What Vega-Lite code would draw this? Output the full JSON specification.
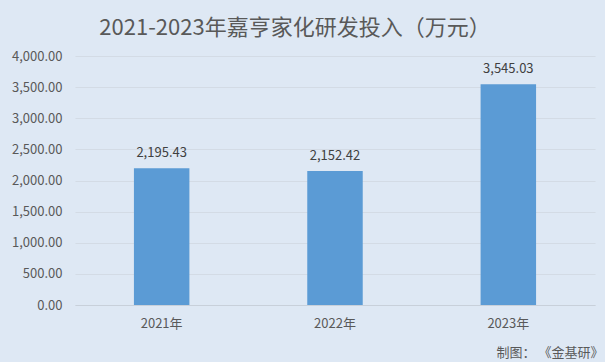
{
  "$schema": "https://vega.github.io/schema/vega-lite/v6.json",
  "width": 520,
  "height": 249,
  "autosize": {"type": "none"},
  "padding": {"left": 75, "top": 56, "right": 10, "bottom": 57},
  "background": "#dee8f4",
  "title": {
    "text": "2021-2023年嘉亨家化研发投入（万元）",
    "font": "Noto Sans CJK SC",
    "fontSize": 22,
    "fontWeight": "normal",
    "color": "#595959",
    "anchor": "middle",
    "frame": "group",
    "dx": -40,
    "offset": 10
  },
  "config": {
    "view": {"stroke": null},
    "font": "Noto Sans CJK SC"
  },
  "data": {
    "values": [
      {"year": "2021年", "value": 2195.43},
      {"year": "2022年", "value": 2152.42},
      {"year": "2023年", "value": 3545.03}
    ]
  },
  "encoding": {
    "x": {
      "field": "year",
      "type": "nominal",
      "sort": null,
      "scale": {"paddingInner": 0.68, "paddingOuter": 0.34},
      "axis": {
        "title": "制图：  《金基研》",
        "titleAnchor": "end",
        "titleAlign": "right",
        "titleX": 528,
        "titleY": 54,
        "titleBaseline": "bottom",
        "titleFont": "Noto Sans CJK SC",
        "titleFontSize": 13,
        "titleFontWeight": "normal",
        "titleColor": "#595959",
        "labelAngle": 0,
        "labelFont": "Noto Sans CJK SC",
        "labelFontSize": 13,
        "labelColor": "#595959",
        "labelPadding": 12,
        "ticks": false,
        "domainColor": "#c8d0da",
        "domainWidth": 1
      }
    },
    "y": {
      "field": "value",
      "type": "quantitative",
      "scale": {"domain": [0, 4000]},
      "axis": {
        "title": null,
        "values": [0, 500, 1000, 1500, 2000, 2500, 3000, 3500, 4000],
        "format": ",.2f",
        "labelFont": "Noto Sans CJK SC",
        "labelFontSize": 13,
        "labelColor": "#595959",
        "labelPadding": 13,
        "ticks": false,
        "domain": false,
        "gridColor": "#d3dbe5",
        "gridWidth": 1
      }
    }
  },
  "layer": [
    {
      "mark": {"type": "bar", "color": "#5b9bd5"}
    },
    {
      "mark": {
        "type": "text",
        "baseline": "bottom",
        "dy": -8,
        "fontSize": 13,
        "color": "#404040",
        "font": "Noto Sans CJK SC"
      },
      "encoding": {
        "text": {"field": "value", "type": "quantitative", "format": ",.2f"}
      }
    }
  ]
}
